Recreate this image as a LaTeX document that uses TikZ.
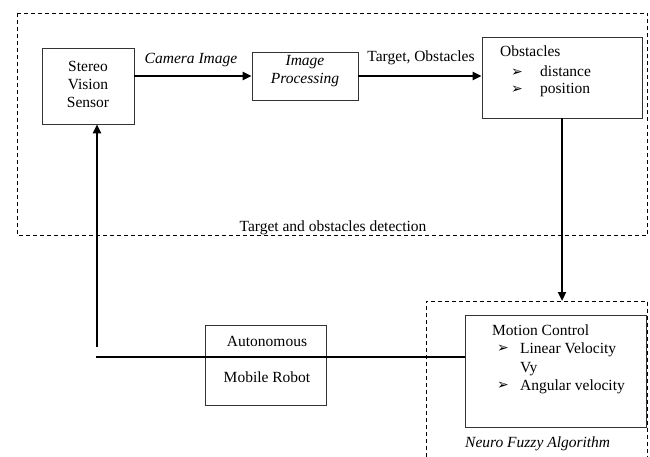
\documentclass[tikz,border=0pt]{standalone}
\usepackage{fontspec}
\setmainfont{Liberation Serif}
\newfontfamily\symfont{DejaVu Sans}
\usetikzlibrary{arrows.meta}
\begin{document}
\begin{tikzpicture}[x=1pt,y=-1pt,
  box/.style={draw=black!80, line width=0.9pt, inner sep=0pt},
  grp/.style={draw=black, line width=0.8pt, dash pattern=on 4pt off 3pt},
  conn/.style={line width=2.2pt, -{Triangle[length=9pt,width=8pt]}},
  wire/.style={line width=2.2pt},
  txt/.style={font=\fontsize{15.5}{18}\selectfont, inner sep=0pt, text height=11pt, text depth=3pt},
  bul/.style={font=\symfont\fontsize{14}{15}\selectfont, inner sep=0pt},
]
\useasboundingbox (0,0) rectangle (650,457);

% group frames
\draw[grp] (17,13) rectangle (647.5,235);
\draw[grp] (426,457) -- (426,301) -- (647.5,301) -- (647.5,457);

% boxes
\node[box, minimum width=92pt, minimum height=76pt] (stereo) at (88,86) {};
\node[box, minimum width=106pt, minimum height=48pt] (ip) at (305,76) {};
\node[box, minimum width=160pt, minimum height=81pt] (obs) at (562,77.5) {};
\node[box, minimum width=121pt, minimum height=80pt] (robot) at (265.5,365) {};
\node[box, minimum width=181pt, minimum height=112pt] (motion) at (555.5,371) {};

% texts
\node[txt, align=center, text height=, text depth=] (stereoT) at (88,84) {Stereo\\Vision\\Sensor};
\node[txt, align=center, text height=, text depth=, font=\fontsize{15.5}{18}\selectfont\itshape] (ipT) at (305,71) {Image\\Processing};
\node[txt, font=\fontsize{15.5}{18}\selectfont\itshape] (camT) at (191,60) {Camera Image};
\node[txt] (tgoT) at (421,58) {Target, Obstacles};
\node[txt, anchor=west] (obsT) at (500,53) {Obstacles};
\node[bul] (b1) at (517,73) {➢};
\node[txt, anchor=west] (distT) at (540,73) {distance};
\node[bul] (b2) at (517,90) {➢};
\node[txt, anchor=west] (posT) at (540,90) {position};
\node[txt] (detT) at (333,227) {Target and obstacles detection};

\node[txt] (autoT) at (267,342) {Autonomous};
\node[txt] (mobT) at (267,378) {Mobile Robot};

\node[txt, anchor=west] (mcT) at (492,331) {Motion Control};
\node[bul] (b3) at (503,349) {➢};
\node[txt, anchor=west] (linT) at (520,349) {Linear Velocity};
\node[txt, anchor=west] (vyT) at (520,368) {Vy};
\node[bul] (b4) at (503,386) {➢};
\node[txt, anchor=west] (angT) at (520,386) {Angular velocity};
\node[txt, anchor=west, font=\fontsize{15.5}{18}\selectfont\itshape] (nfT) at (465,443) {Neuro Fuzzy Algorithm};

% connectors
\draw[conn] (stereo.east |- ip.west) -- (ip.west);
\draw[conn] (ip.east) -- (ip.east -| obs.west);
\coordinate (nfTop) at (562,301);
\draw[conn] (obs.south) -- (nfTop);
\coordinate (upStart) at (97,347);
\draw[conn] (upStart) -- (upStart |- stereo.south);
\coordinate (hStart) at (96,357);
\draw[wire] (hStart) -- (hStart -| motion.west);
\end{tikzpicture}
\end{document}
